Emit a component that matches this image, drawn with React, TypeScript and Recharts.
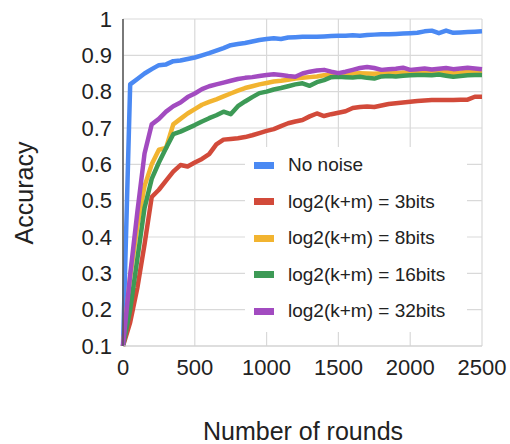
import React from "react"
import { LineChart, Line, XAxis, YAxis, CartesianGrid } from "recharts"

const rounds = [
  0, 50, 100, 150, 200, 250, 300, 350, 400, 450, 500, 550, 600, 650, 700, 750, 800, 850, 900, 950,
  1000, 1050, 1100, 1150, 1200, 1250, 1300, 1350, 1400, 1450, 1500, 1550, 1600, 1650, 1700, 1750,
  1800, 1850, 1900, 1950, 2000, 2050, 2100, 2150, 2200, 2250, 2300, 2350, 2400, 2450, 2500,
]

const noNoise = [
  0.1, 0.82, 0.835, 0.85, 0.862, 0.873, 0.875, 0.884, 0.886, 0.89, 0.894, 0.9, 0.906, 0.913, 0.92,
  0.928, 0.931, 0.934, 0.938, 0.942, 0.945, 0.947, 0.945, 0.949, 0.95, 0.951, 0.951, 0.951, 0.952,
  0.953, 0.954, 0.954, 0.955, 0.954, 0.956, 0.957, 0.958, 0.958, 0.959, 0.96, 0.961, 0.962, 0.966,
  0.968, 0.961, 0.968, 0.962, 0.963, 0.964, 0.965, 0.966,
]

const bits3 = [
  0.1, 0.165, 0.26, 0.38, 0.51, 0.53, 0.555, 0.58, 0.598, 0.594, 0.605, 0.615, 0.628, 0.655, 0.668,
  0.67, 0.672, 0.675, 0.68, 0.686, 0.692, 0.697, 0.705, 0.713, 0.718, 0.722, 0.732, 0.74, 0.733,
  0.738, 0.742, 0.746, 0.755, 0.758, 0.759, 0.758, 0.762, 0.766, 0.768, 0.77, 0.772, 0.774, 0.776,
  0.777, 0.777, 0.777, 0.777, 0.778, 0.778, 0.786, 0.786,
]

const bits8 = [
  0.1, 0.29, 0.43, 0.54, 0.6, 0.64, 0.645, 0.71, 0.725, 0.74, 0.752, 0.764, 0.772, 0.779, 0.787,
  0.795, 0.803, 0.81, 0.815, 0.82, 0.824, 0.828, 0.83, 0.833, 0.836, 0.838, 0.84, 0.842, 0.845,
  0.846, 0.848, 0.848, 0.85, 0.851, 0.85, 0.849, 0.851, 0.852, 0.851, 0.853, 0.852, 0.853, 0.854,
  0.852, 0.853, 0.854, 0.852, 0.853, 0.855, 0.854, 0.855,
]

const bits16 = [
  0.1, 0.2, 0.34, 0.48, 0.56, 0.605, 0.645, 0.683, 0.69, 0.699, 0.708, 0.718, 0.727, 0.735, 0.745,
  0.738, 0.76, 0.773, 0.785, 0.796, 0.8, 0.806, 0.81, 0.815, 0.82, 0.823, 0.816, 0.826, 0.832, 0.84,
  0.841, 0.84, 0.839, 0.841, 0.838, 0.836, 0.842, 0.843, 0.842, 0.844, 0.845, 0.846, 0.846, 0.845,
  0.847, 0.844, 0.841, 0.843, 0.845, 0.846, 0.846,
]

const bits32 = [
  0.1, 0.296, 0.469, 0.63, 0.71, 0.725, 0.745, 0.76, 0.77, 0.785, 0.795, 0.807, 0.815, 0.82, 0.825,
  0.83, 0.835, 0.838, 0.84, 0.843, 0.846, 0.848, 0.846, 0.843, 0.841, 0.85, 0.855, 0.858, 0.86,
  0.855, 0.851, 0.855, 0.86, 0.865, 0.868, 0.865, 0.86, 0.862, 0.863, 0.866, 0.86, 0.862, 0.864,
  0.861, 0.863, 0.865, 0.862, 0.864, 0.866, 0.864, 0.862,
]

const xTicks = [0, 500, 1000, 1500, 2000, 2500]
const yTicks = [0.1, 0.2, 0.3, 0.4, 0.5, 0.6, 0.7, 0.8, 0.9, 1]

const series = [
  { key: "noNoise", name: "No noise", color: "#4a89f3", values: noNoise },
  { key: "bits3", name: "log2(k+m) = 3bits", color: "#d24a3a", values: bits3 },
  { key: "bits8", name: "log2(k+m) = 8bits", color: "#f2b430", values: bits8 },
  { key: "bits16", name: "log2(k+m) = 16bits", color: "#3d9a56", values: bits16 },
  { key: "bits32", name: "log2(k+m) = 32bits", color: "#a24bc0", values: bits32 },
]

const data = rounds.map((r, i) => {
  const row: Record<string, number> = { round: r }
  series.forEach((s) => {
    row[s.key] = s.values[i]
  })
  return row
})

const font = "'Liberation Sans', Arial, sans-serif"

export default function App() {
  return (
    <div style={{ position: "absolute", left: 0, top: 0, width: 510, height: 444, background: "#fff" }}>
      <LineChart width={510} height={444} data={data} margin={{ top: 19, right: 28, left: 0, bottom: 0 }}>
        <CartesianGrid stroke="#d9d9d9" strokeWidth={1.2} horizontal vertical />
        <XAxis
          dataKey="round"
          type="number"
          domain={[0, 2500]}
          ticks={xTicks}
          height={98}
          tickSize={0}
          tickMargin={13}
          axisLine={{ stroke: "#d0d0d0" }}
          tick={{ fill: "#222", fontSize: 22, fontFamily: font }}
        />
        <YAxis
          type="number"
          domain={[0.1, 1]}
          ticks={yTicks}
          width={123}
          tickSize={0}
          tickMargin={11}
          axisLine={{ stroke: "#555", strokeWidth: 1.5 }}
          tick={{ fill: "#222", fontSize: 22, fontFamily: font }}
          tickFormatter={(v: number) => `${Math.round(v * 10) / 10}`}
        />
        {series.map((s) => (
          <Line
            key={s.key}
            dataKey={s.key}
            name={s.name}
            stroke={s.color}
            strokeWidth={4.5}
            dot={false}
            strokeLinejoin="round"
            isAnimationActive={false}
          />
        ))}
      </LineChart>
      {/* legend box sits over the plot, covering the grid */}
      <div
        style={{
          position: "absolute",
          left: 245,
          top: 147,
          width: 222,
          height: 185,
          background: "#fff",
          boxSizing: "border-box",
        }}
      >
        {series.map((s) => (
          <div
            key={s.key}
            style={{
              display: "flex",
              alignItems: "center",
              height: 36.5,
              fontFamily: font,
              fontSize: 19,
              color: "#222",
            }}
          >
            <span style={{ width: 20, height: 7, background: s.color, marginLeft: 9, marginRight: 14 }} />
            <span>{s.name}</span>
          </div>
        ))}
      </div>
      <div
        style={{
          position: "absolute",
          left: 303,
          top: 418,
          transform: "translateX(-50%)",
          whiteSpace: "nowrap",
          fontFamily: font,
          fontSize: 25,
          color: "#222",
          lineHeight: "26px",
        }}
      >
        Number of rounds
      </div>
      <div
        style={{
          position: "absolute",
          left: 24,
          top: 193,
          transform: "translate(-50%, -50%) rotate(-90deg)",
          whiteSpace: "nowrap",
          fontFamily: font,
          fontSize: 25,
          color: "#222",
          lineHeight: "26px",
        }}
      >
        Accuracy
      </div>
    </div>
  )
}
